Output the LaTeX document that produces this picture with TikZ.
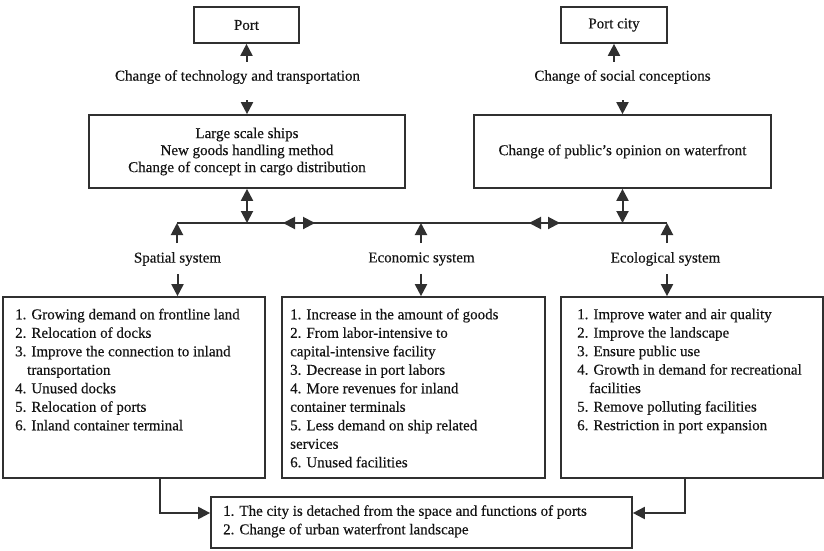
\documentclass[tikz,border=0pt]{standalone}
\usepackage{fontspec}
\setmainfont{Liberation Serif}[UprightFeatures={FakeBold=0.35}]
\usetikzlibrary{arrows.meta}
\definecolor{linec}{HTML}{303030}
\definecolor{textc}{HTML}{141414}
\begin{document}
\begin{tikzpicture}[x=1pt,y=-1pt,
  txt/.style={font=\fontsize{15}{18.5}\selectfont, text=textc},
  box/.style={draw=linec, line width=1.7pt, inner sep=0pt, txt},
  lbl/.style={txt, inner sep=0pt},
  listtxt/.style={txt, inner sep=0pt, anchor=north west, align=left},
  arr/.style={draw=linec, line width=2pt, -{Triangle[length=12pt,width=12pt]}},
  darr/.style={draw=linec, line width=2pt, {Triangle[length=12pt,width=12pt]}-{Triangle[length=12pt,width=12pt]}},
  hub/.style={draw=linec, line width=1.7pt}
]
\useasboundingbox[fill=white] (0,0) rectangle (824,550);

% top row: port and port city
\node[box, minimum width=105pt, minimum height=36pt] (port) at (246.5,25) {Port};
\node[box, minimum width=106pt, minimum height=36pt] (portcity) at (614,25) {Port city};

% driving changes
\node[lbl] (techlbl) at (237.5,77) {Change of technology and transportation};
\node[lbl] (sociallbl) at (622.5,77) {Change of social conceptions};

\node[box, minimum width=316pt, minimum height=73pt, align=center,
      font=\fontsize{15}{17}\selectfont] (tech) at (247,151.5)
  {Large scale ships\\New goods handling method\\Change of concept in cargo distribution};
\node[box, minimum width=297pt, minimum height=73pt] (pub) at (622.5,151.5)
  {Change of public's opinion on waterfront};

\draw[arr] ([yshift=8pt]techlbl.north -| port.south) -- (port.south);
\draw[arr] ([yshift=-16pt]techlbl.south -| tech.north) -- (tech.north);
\draw[arr] ([yshift=8pt]sociallbl.north -| portcity.south) -- (portcity.south);
\draw[arr] ([yshift=-16pt]sociallbl.south -| pub.north) -- (pub.north);

% the three systems
\node[lbl] (spatlbl) at (177.5,259) {Spatial system};
\node[lbl] (econlbl) at (421.5,259) {Economic system};
\node[lbl] (ecollbl) at (665.5,259) {Ecological system};

\coordinate (hubL) at (177,223);
\coordinate (hubR) at (667,223);
\draw[hub] (hubL) -- (hubR);

\draw[darr] (tech.south) -- (tech.south |- hubL);
\draw[darr] (pub.south) -- (pub.south |- hubL);
\coordinate (h1a) at (283,223);
\coordinate (h1b) at (315,223);
\coordinate (h2a) at (529,223);
\coordinate (h2b) at (560,223);
\draw[darr] (h1a) -- (h1b);
\draw[darr] (h2a) -- (h2b);

\draw[arr] (hubL |- 0,243) -- (hubL);
\draw[arr] (421,243) -- (421,223);
\draw[arr] (hubR |- 0,243) -- (hubR);

% detail boxes
\node[box, minimum width=262pt, minimum height=181pt] (spbox) at (134,387.5) {};
\node[box, minimum width=263pt, minimum height=181pt] (ecbox) at (413.5,387.5) {};
\node[box, minimum width=262pt, minimum height=181pt] (eobox) at (692,387.5) {};

\draw[arr] ([yshift=-8pt]spatlbl.south) -- (spatlbl.south |- spbox.north);
\draw[arr] ([yshift=-8pt]econlbl.south -| 421,0) -- (421,0 |- ecbox.north);
\draw[arr] ([yshift=-8pt]ecollbl.south -| hubR) -- (hubR |- eobox.north);

\node[listtxt] (splist) at (15,308.5) {%
1. Growing demand on frontline land\\
2. Relocation of docks\\
3. Improve the connection to inland\\
\hspace*{12pt}transportation\\
4. Unused docks\\
5. Relocation of ports\\
6. Inland container terminal};

\node[listtxt] (eclist) at (290,308.5) {%
1. Increase in the amount of goods\\
2. From labor-intensive to\\
capital-intensive facility\\
3. Decrease in port labors\\
4. More revenues for inland\\
container terminals\\
5. Less demand on ship related\\
services\\
6. Unused facilities};

\node[listtxt] (eolist) at (577,308.5) {%
1. Improve water and air quality\\
2. Improve the landscape\\
3. Ensure public use\\
4. Growth in demand for recreational\\
\hspace*{12pt}facilities\\
5. Remove polluting facilities\\
6. Restriction in port expansion};

% outcome
\node[box, minimum width=421pt, minimum height=51pt] (final) at (421.5,522.5) {};
\node[listtxt] (finallist) at (223,505) {%
1. The city is detached from the space and functions of ports\\
2. Change of urban waterfront landscape};

\draw[arr] ([xshift=26pt]spbox.south) |- ([yshift=9.5pt]final.west);
\draw[arr] ([xshift=-7pt]eobox.south) |- ([yshift=9.5pt]final.east);
\end{tikzpicture}
\end{document}
